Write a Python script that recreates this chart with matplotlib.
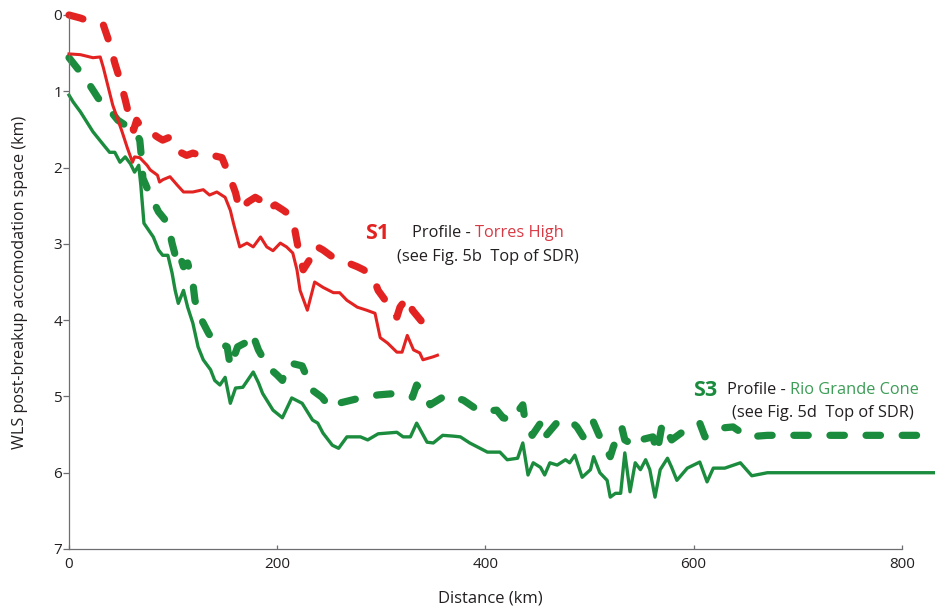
import matplotlib
matplotlib.use("Agg")
import matplotlib.pyplot as plt
from matplotlib.offsetbox import TextArea, HPacker, AnnotationBbox

plt.rcParams['font.family'] = ['Open Sans', 'DejaVu Sans']

# S1 profile (Torres High), distance in km and WLS depth in km
s1_solid_km = [0, 11, 23, 30, 33, 42, 51, 56, 61, 63, 68, 75, 78, 85, 87, 90, 97, 104, 110, 119,
               129, 135, 142, 150, 155, 158, 164, 171, 177, 184, 190, 196, 203, 209, 215, 219,
               222, 229, 236, 244, 254, 260, 267, 277, 286, 294, 299, 306, 315, 320, 325, 331,
               337, 340, 350, 354]
s1_solid_depth = [0.51, 0.52, 0.56, 0.55, 0.69, 1.18, 1.53, 1.74, 1.93, 1.86, 1.87, 1.97, 2.03,
                  2.10, 2.19, 2.16, 2.12, 2.23, 2.32, 2.32, 2.29, 2.36, 2.32, 2.39, 2.56, 2.73,
                  3.04, 2.99, 3.04, 2.91, 3.04, 3.09, 2.99, 3.04, 3.12, 3.34, 3.61, 3.87, 3.50,
                  3.57, 3.64, 3.64, 3.74, 3.83, 3.87, 3.91, 4.23, 4.30, 4.42, 4.42, 4.20, 4.39,
                  4.43, 4.52, 4.48, 4.46]

s1_dash_km = [0, 11, 17, 25, 33, 39, 44, 49, 54, 57, 62, 65, 68, 78, 85, 90, 97, 107, 113, 119,
              131, 138, 147, 153, 160, 164, 172, 179, 184, 190, 198, 206, 212, 217, 220, 225,
              232, 236, 244, 253, 260, 268, 277, 283, 292, 297, 306, 315, 318, 325, 330, 339,
              350, 354]
s1_dash_depth = [0.00, 0.04, 0.07, 0.09, 0.13, 0.37, 0.63, 0.85, 1.11, 1.28, 1.51, 1.38, 1.44,
                 1.53, 1.60, 1.64, 1.60, 1.80, 1.84, 1.81, 1.86, 1.84, 1.87, 2.07, 2.33, 2.56,
                 2.45, 2.39, 2.43, 2.56, 2.49, 2.56, 2.62, 2.82, 3.04, 3.34, 3.19, 3.02, 3.08,
                 3.17, 3.21, 3.25, 3.30, 3.34, 3.43, 3.61, 3.78, 3.96, 3.83, 3.70, 3.87, 4.02,
                 3.97, 3.96]

# S3 profile (Rio Grande Cone)
s3_solid_km = [0, 4, 11, 17, 23, 33, 39, 44, 49, 54, 59, 63, 67, 69, 72, 81, 86, 90, 95, 99,
               102, 105, 110, 114, 119, 124, 129, 136, 140, 145, 150, 155, 160, 167, 177, 182,
               186, 196, 205, 214, 224, 234, 239, 244, 253, 259, 267, 280, 287, 297, 306, 315,
               321, 328, 334, 344, 350, 359, 369, 376, 385, 402, 414, 421, 431, 436, 441, 446,
               453, 457, 462, 469, 477, 481, 486, 493, 501, 504, 510, 517, 520, 525, 530, 534,
               539, 544, 549, 554, 558, 563, 568, 575, 579, 584, 594, 606, 613, 619, 630, 645,
               656, 671, 702, 832]
s3_solid_depth = [1.05, 1.14, 1.27, 1.40, 1.53, 1.70, 1.80, 1.80, 1.93, 1.86, 1.95, 2.06, 1.97,
                  2.23, 2.73, 2.91, 3.08, 3.15, 3.15, 3.38, 3.61, 3.78, 3.61, 3.83, 4.04, 4.35,
                  4.52, 4.65, 4.79, 4.85, 4.75, 5.09, 4.89, 4.88, 4.68, 4.82, 4.96, 5.18, 5.28,
                  5.02, 5.09, 5.31, 5.35, 5.48, 5.64, 5.68, 5.53, 5.53, 5.57, 5.49, 5.48, 5.47,
                  5.53, 5.53, 5.35, 5.60, 5.61, 5.51, 5.52, 5.53, 5.61, 5.73, 5.73, 5.83, 5.81,
                  5.61, 6.03, 5.87, 5.93, 6.03, 5.87, 5.90, 5.83, 5.87, 5.77, 6.06, 5.96, 5.79,
                  6.00, 6.10, 6.32, 6.27, 6.27, 5.74, 6.25, 5.87, 5.96, 5.83, 5.96, 6.32, 5.96,
                  5.81, 5.93, 6.10, 5.94, 5.86, 6.12, 5.94, 5.94, 5.87, 6.04, 6.00, 6.00, 6.00]

s3_dash_km = [0, 11, 20, 28, 41, 47, 56, 63, 68, 70, 71, 78, 86, 95, 99, 104, 107, 110, 114,
              119, 121, 126, 134, 140, 145, 152, 155, 162, 169, 176, 182, 191, 200, 205, 208,
              212, 224, 234, 243, 251, 259, 265, 280, 297, 315, 323, 330, 334, 339, 347, 359,
              364, 379, 395, 411, 417, 426, 431, 436, 438, 445, 453, 456, 469, 475, 481, 488,
              494, 503, 510, 515, 520, 523, 531, 534, 539, 542, 549, 561, 565, 570, 579, 585,
              592, 606, 611, 623, 630, 638, 652, 671, 832]
s3_dash_depth = [0.56, 0.75, 0.92, 1.09, 1.28, 1.38, 1.46, 1.51, 1.64, 1.93, 2.14, 2.36, 2.58,
                 2.73, 2.99, 3.25, 3.17, 3.30, 3.25, 3.51, 3.74, 3.96, 4.17, 4.30, 4.30, 4.35,
                 4.61, 4.35, 4.30, 4.17, 4.39, 4.61, 4.72, 4.79, 4.65, 4.56, 4.60, 4.92, 5.01,
                 5.15, 5.09, 5.07, 5.02, 4.98, 4.96, 4.98, 5.01, 4.85, 4.92, 5.11, 5.01, 4.98,
                 5.05, 5.20, 5.18, 5.28, 5.31, 5.20, 5.11, 5.31, 5.51, 5.35, 5.55, 5.34, 5.34,
                 5.31, 5.40, 5.53, 5.31, 5.53, 5.66, 5.79, 5.66, 5.40, 5.57, 5.61, 5.53, 5.57,
                 5.53, 5.74, 5.35, 5.57, 5.51, 5.44, 5.35, 5.53, 5.44, 5.41, 5.40, 5.53, 5.51,
                 5.51]

x_ticks = [0, 200, 400, 600, 800]
y_ticks = [0, 1, 2, 3, 4, 5, 6, 7]

red = '#e32322'
green = '#1b8c3d'
text_col = '#231f20'
axis_col = '#6d6e71'

fig = plt.figure(figsize=(9.35, 6.09), dpi=100)
ax = fig.add_axes([69 / 935, 1 - 549 / 609, 866 / 935, 534 / 609])

dash = (0, (2.0, 3.0))
ax.plot(s3_solid_km, s3_solid_depth, '-', lw=2.4, c=green, solid_joinstyle='round', clip_on=False)
ax.plot(s3_dash_km, s3_dash_depth, lw=5.2, c=green, ls=dash, dash_capstyle='round', clip_on=False)
ax.plot(s1_solid_km, s1_solid_depth, '-', lw=2.2, c=red, solid_joinstyle='round', clip_on=False)
ax.plot(s1_dash_km, s1_dash_depth, lw=5.2, c=red, ls=dash, dash_capstyle='round', clip_on=False)

ax.set_xlim(0, 832)
ax.set_ylim(7, 0)
ax.set_xticks(x_ticks)
ax.set_yticks(y_ticks)
for s in ['top', 'right']:
    ax.spines[s].set_visible(False)
ax.spines['bottom'].set_bounds(0, 800)
for s in ['left', 'bottom']:
    ax.spines[s].set_color(axis_col)
    ax.spines[s].set_linewidth(0.9)
ax.tick_params(axis='x', direction='in', length=3, width=0.9, color=axis_col,
               labelsize=11, labelcolor=text_col, pad=6)
ax.tick_params(axis='y', direction='out', length=4, width=0.9, color=axis_col,
               labelsize=11, labelcolor=text_col, pad=1)

ax.set_xlabel('Distance (km)', fontsize=12, color=text_col)
ax.xaxis.set_label_coords(0.486, -0.092)
ax.xaxis.label.set_va('center')
ax.set_ylabel('WLS post-breakup accomodation space (km)', fontsize=11.6, color=text_col)
ax.yaxis.set_label_coords(-0.057, 0.5)
ax.yaxis.label.set_va('center')


def place(x, y, parts):
    box = HPacker(children=[TextArea(t, textprops=p) for t, p in parts], align='baseline', pad=0, sep=0)
    ab = AnnotationBbox(box, (x, y), xycoords='data', box_alignment=(0, 0.5), frameon=False,
                        pad=0, annotation_clip=False)
    ax.add_artist(ab)


plain = dict(color=text_col, size=11.8)
place(284, 2.86, [('S1', dict(color=red, size=15.5, weight='bold'))])
place(330, 2.86, [('Profile - ', plain), ('Torres High', dict(color='#d83a45', size=11.8))])
place(315, 3.17, [('(see Fig. 5b  Top of SDR)', plain)])

place(600, 4.92, [('S3', dict(color=green, size=15.5, weight='bold'))])
place(632, 4.92, [('Profile - ', plain), ('Rio Grande Cone', dict(color='#3c9d57', size=11.8))])
place(637, 5.22, [('(see Fig. 5d  Top of SDR)', plain)])

fig.savefig('out.png', dpi=100)
